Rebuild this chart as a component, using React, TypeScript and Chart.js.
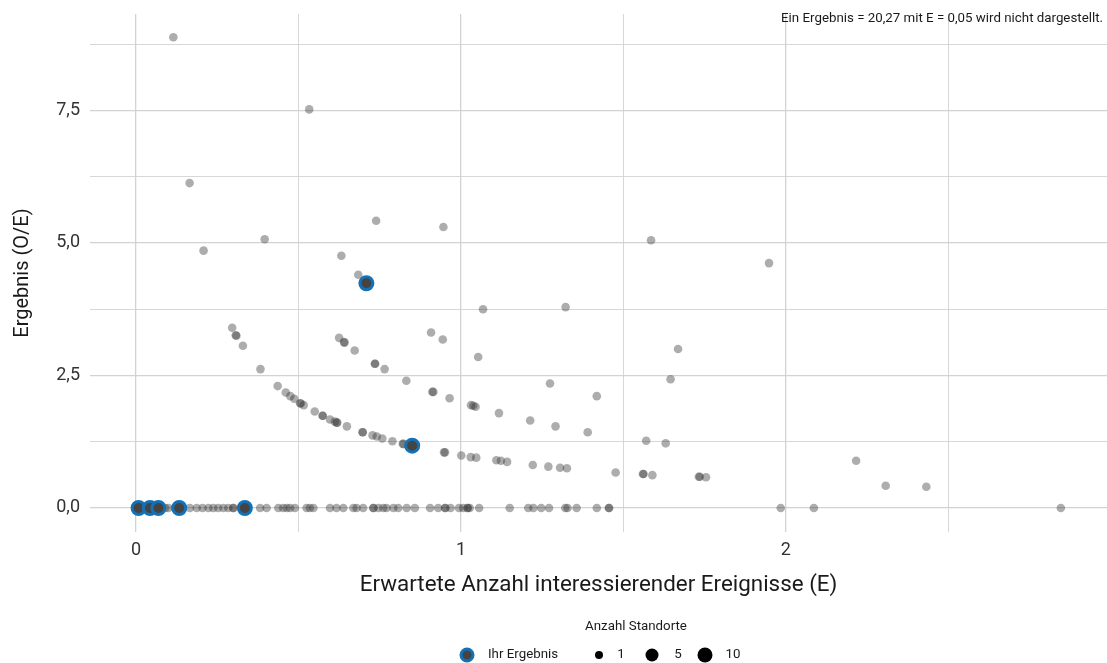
import React, { useEffect, useRef } from 'react';
import { Chart, registerables } from 'chart.js';

Chart.register(...registerables);

// Grey points: other sites (E, O/E)
const greyX = [
  0.115, 0.533, 0.165, 0.208, 0.396, 0.739, 0.946, 0.632, 0.684, 1.585,
  1.948, 1.068, 1.322, 0.908, 0.944, 1.053, 1.668, 0.832, 1.274, 1.645,
  0.912, 0.915, 0.965, 1.418, 1.031, 1.045, 1.038, 1.117, 1.213, 1.291,
  1.390, 0.823, 1.570, 1.630, 0.948, 0.951, 1.001, 1.030, 1.047, 1.109,
  1.123, 1.142, 1.221, 1.269, 1.305, 1.326, 1.476, 1.560, 1.562, 1.589,
  1.732, 1.735, 1.754, 2.216, 2.307, 2.432,
  0.296, 0.307, 0.309, 0.329, 0.383, 0.625, 0.640, 0.642, 0.673, 0.735,
  0.736, 0.765,
  0.436, 0.461, 0.475, 0.487, 0.505, 0.507, 0.516, 0.550, 0.574, 0.575,
  0.597, 0.612, 0.618, 0.619, 0.649, 0.697, 0.698, 0.728, 0.741, 0.758,
  0.789, 0.821,
];
const greyY = [
  8.88, 7.52, 6.13, 4.855, 5.07, 5.42, 5.30, 4.76, 4.40, 5.05,
  4.62, 3.75, 3.79, 3.31, 3.18, 2.85, 3.00, 2.40, 2.35, 2.43,
  2.19, 2.19, 2.07, 2.11, 1.94, 1.91, 1.93, 1.79, 1.65, 1.54,
  1.43, 1.21, 1.27, 1.22, 1.05, 1.05, 0.99, 0.96, 0.95, 0.90,
  0.89, 0.87, 0.81, 0.78, 0.76, 0.75, 0.67, 0.64, 0.64, 0.62,
  0.59, 0.59, 0.58, 0.89, 0.42, 0.40,
  3.40, 3.26, 3.25, 3.06, 2.62, 3.21, 3.13, 3.12, 2.97, 2.72,
  2.72, 2.62,
  2.30, 2.18, 2.11, 2.06, 1.975, 1.97, 1.94, 1.82, 1.74, 1.74,
  1.67, 1.63, 1.61, 1.61, 1.54, 1.43, 1.43, 1.37, 1.35, 1.31,
  1.26, 1.21,
];

// Grey points with O/E = 0 (E values)
const zeroX = [
  0.02, 0.05, 0.09, 0.10, 0.12,
  0.166, 0.187, 0.205, 0.223, 0.238, 0.253, 0.269, 0.284, 0.299, 0.300,
  0.382, 0.402, 0.438, 0.453, 0.464, 0.474, 0.489, 0.525, 0.535, 0.546,
  0.597, 0.617, 0.638, 0.669, 0.679, 0.699, 0.730, 0.731, 0.746, 0.761,
  0.771, 0.792, 0.807, 0.833, 0.858, 0.905, 0.930, 0.951, 0.952, 0.968,
  0.994, 1.007, 1.020, 1.021, 1.027, 1.056, 1.150, 1.207, 1.223, 1.247,
  1.271, 1.321, 1.328, 1.356, 1.418, 1.455, 1.456, 1.984, 2.086, 2.846,
];
const zeroY = zeroX.map(() => 0);

// "Ihr Ergebnis" (your result)
const blueX = [0.709, 0.850, 0.008, 0.043, 0.069, 0.133, 0.335];
const blueY = [4.24, 1.175, 0, 0, 0, 0, 0];

const xTickValues = [0, 0.5, 1, 1.5, 2, 2.5];
const xTickLabels = ['0', '', '1', '', '2', ''];
const yTickValues = [0, 1.25, 2.5, 3.75, 5, 6.25, 7.5, 8.75];
const yTickLabels = ['0,0', '', '2,5', '', '5,0', '', '7,5', ''];

const xTitle = 'Erwartete Anzahl interessierender Ereignisse (E)';
const yTitle = 'Ergebnis (O/E)';
const noteText = 'Ein Ergebnis = 20,27 mit E = 0,05 wird nicht dargestellt.';
const legendTitle = 'Anzahl Standorte';
const legendOwn = 'Ihr Ergebnis';
const legendSizes = ['1', '5', '10'];

const FONT = 'Roboto, "Noto Sans", sans-serif';
const BLUE = '#1471b6';
const DARK = '#444444';

const overlayPlugin = {
  id: 'overlay',
  afterDraw(chart: any) {
    const ctx = chart.ctx as CanvasRenderingContext2D;
    ctx.save();
    ctx.fillStyle = '#1a1a1a';
    ctx.font = `13.3px ${FONT}`;
    ctx.textAlign = 'right';
    ctx.textBaseline = 'middle';
    ctx.fillText(noteText, 1103, 19);

    // legend
    ctx.font = `13.3px ${FONT}`;
    ctx.textAlign = 'center';
    ctx.fillText(legendTitle, 636, 627);

    const cy = 655;
    ctx.beginPath();
    ctx.arc(467, cy, 6, 0, Math.PI * 2);
    ctx.fillStyle = DARK;
    ctx.fill();
    ctx.lineWidth = 3;
    ctx.strokeStyle = BLUE;
    ctx.stroke();

    ctx.fillStyle = '#1a1a1a';
    ctx.textAlign = 'left';
    ctx.fillText(legendOwn, 488, cy);

    const dotX = [599, 652, 705];
    const dotR = [4, 6.5, 7.5];
    const labX = [621, 678, 733];
    legendSizes.forEach((lab, i) => {
      ctx.beginPath();
      ctx.arc(dotX[i], cy, dotR[i], 0, Math.PI * 2);
      ctx.fillStyle = '#000';
      ctx.fill();
      ctx.fillStyle = '#1a1a1a';
      ctx.textAlign = 'center';
      ctx.fillText(lab, labX[i], cy);
    });
    ctx.restore();
  },
};

function zeroPad(s: any) {
  s.paddingTop = 0;
  s.paddingBottom = 0;
  s.paddingLeft = 0;
  s.paddingRight = 0;
}

export default function App() {
  const ref = useRef<HTMLCanvasElement | null>(null);

  useEffect(() => {
    document.body.style.margin = '0';
    const canvas = ref.current;
    if (!canvas) return;
    const greyData = greyX.map((x, i) => ({ x, y: greyY[i] }))
      .concat(zeroX.map((x, i) => ({ x, y: zeroY[i] })));
    const blueData = blueX.map((x, i) => ({ x, y: blueY[i] }));

    const chart = new Chart(canvas, {
      type: 'scatter',
      data: {
        datasets: [
          {
            label: legendOwn,
            data: blueData,
            backgroundColor: DARK,
            borderColor: BLUE,
            borderWidth: 3,
            pointRadius: 6.5,
            pointHoverRadius: 6.5,
            order: 0,
          },
          {
            label: 'Standorte',
            data: greyData,
            backgroundColor: 'rgba(50,50,50,0.4)',
            borderWidth: 0,
            pointRadius: 4.3,
            pointHoverRadius: 4.3,
            order: 1,
          },
        ],
      },
      options: {
        responsive: false,
        animation: false,
        events: [],
        layout: { autoPadding: false, padding: { top: 14, right: 0, left: 0, bottom: 0 } },
        plugins: {
          legend: { display: false },
          tooltip: { enabled: false },
        },
        scales: {
          x: {
            type: 'linear',
            min: -0.1415,
            max: 2.988,
            afterBuildTicks: (s: any) => {
              s.ticks = xTickValues.map((v) => ({ value: v }));
            },
            afterFit: (s: any) => {
              s.height = 131;
              zeroPad(s);
            },
            ticks: {
              callback: (_v: any, i: number) => xTickLabels[i],
              font: { family: FONT, size: 18 },
              color: '#333',
              padding: 8,
              maxRotation: 0,
              autoSkip: false,
            },
            grid: {
              color: '#d2d2d2',
              lineWidth: (c: any) => (xTickLabels[c.index] ? 1.3 : 0.9),
              drawTicks: false,
            },
            border: { display: false },
            title: {
              display: true,
              text: xTitle,
              font: { family: FONT, size: 22.4 },
              color: '#1a1a1a',
              padding: { top: 0, bottom: 64 },
            },
          },
          y: {
            type: 'linear',
            min: -0.453,
            max: 9.32,
            afterBuildTicks: (s: any) => {
              s.ticks = yTickValues.map((v) => ({ value: v }));
            },
            afterFit: (s: any) => {
              s.width = 90;
              zeroPad(s);
            },
            ticks: {
              callback: (_v: any, i: number) => yTickLabels[i],
              font: { family: FONT, size: 18 },
              color: '#333',
              padding: 10,
              autoSkip: false,
            },
            grid: {
              color: '#d2d2d2',
              lineWidth: (c: any) => (yTickLabels[c.index] ? 1.3 : 0.9),
              drawTicks: false,
            },
            border: { display: false },
            title: {
              display: true,
              text: yTitle,
              font: { family: FONT, size: 20 },
              color: '#1a1a1a',
              padding: { top: 11, bottom: 0 },
            },
          },
        },
      },
      plugins: [overlayPlugin],
    } as any);

    return () => chart.destroy();
  }, []);

  return (
    <div style={{ position: 'absolute', left: 0, top: 0, width: 1107, height: 663 }}>
      <canvas ref={ref} width={1107} height={663} style={{ display: 'block' }} />
    </div>
  );
}
